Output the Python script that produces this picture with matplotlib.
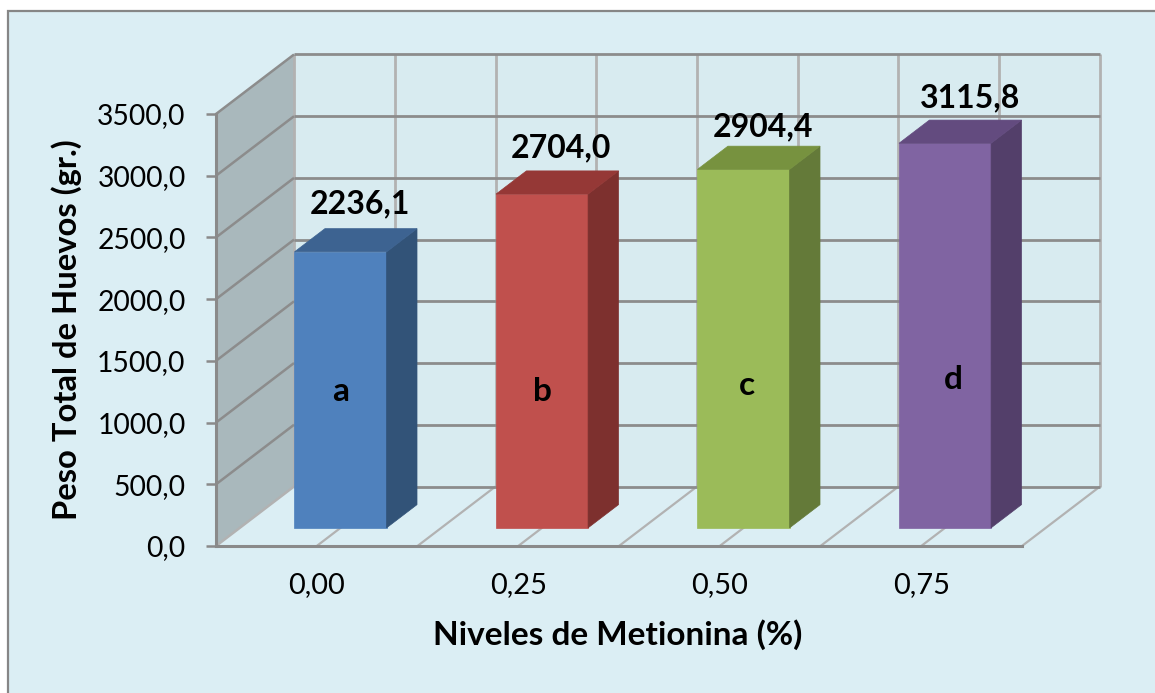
import matplotlib
matplotlib.use("Agg")
import matplotlib.pyplot as plt
from matplotlib.patches import Polygon, Rectangle

# Chart values
niveles = ["0,00", "0,25", "0,50", "0,75"]
peso_total = [2236.1, 2704.0, 2904.4, 3115.8]
grupos = ["a", "b", "c", "d"]
marcas_y = [0, 500, 1000, 1500, 2000, 2500, 3000, 3500]

# Face colours of each column: front, side, top
frente = ["#4F81BD", "#C0504D", "#9BBB59", "#8064A2"]
lateral = ["#325378", "#7D302E", "#647A39", "#533F6A"]
tapa = ["#3D6391", "#953836", "#77923F", "#634B7F"]

FONDO = "#DBEEF4"
PARED_TRASERA = "#D8EBF0"
PARED_LATERAL = "#A9B8BC"
REJILLA_H = "#8C8C8C"
REJILLA_V = "#B2B2B2"
EJE = "#8A8A8A"

W, H = 1155, 693
fig = plt.figure(figsize=(W / 100, H / 100), dpi=100, facecolor="white")
plt.rcParams["font.family"] = ["Lato", "DejaVu Sans"]

# Chart area panel: only its left and top borders fall inside the canvas
fig.add_artist(Rectangle((8 / W, -0.05), 1.1, 1.05 - 11 / H, transform=fig.transFigure,
                         facecolor=FONDO, edgecolor="#868686", linewidth=1.6, zorder=-5))

# The axes cover the front plane of the 3D box
x0, x1, y_top, y_bot = 216, 1022, 114, 546
ax = fig.add_axes([x0 / W, 1 - y_bot / H, (x1 - x0) / W, (y_bot - y_top) / H])
ax.patch.set_alpha(0)
ax.set_xlim(0, 4)
ax.set_ylim(0, 3500)

# Oblique depth vector of the box, in data units
px_x = (x1 - x0) / 4
px_y = (y_bot - y_top) / 3500
DX = 78 / px_x
DY = 59.5 / px_y


def proy(x, y, z=1.0):
    """Project a point at depth z (0 front, 1 back) onto the front plane."""
    return x + z * DX, y + z * DY


def linea(p, q, color, lw, zorder=1):
    ax.plot([p[0], q[0]], [p[1], q[1]], color=color, lw=lw, clip_on=False,
            zorder=zorder, solid_capstyle="butt")


# Walls
ax.add_patch(Polygon([proy(0, 0, 1), proy(4, 0, 1), proy(4, 3500, 1), proy(0, 3500, 1)],
                     closed=True, facecolor=PARED_TRASERA, edgecolor="none",
                     clip_on=False, zorder=0.5))
ax.add_patch(Polygon([proy(0, 0, 0), proy(0, 0, 1), proy(0, 3500, 1), proy(0, 3500, 0)],
                     closed=True, facecolor=PARED_LATERAL, edgecolor="none",
                     clip_on=False, zorder=0.5))

# Gridlines: vertical on the back wall and their continuation across the floor
for k in range(0, 9):
    xk = k / 2
    if k > 0:
        linea(proy(xk, 0, 1), proy(xk, 3500, 1), REJILLA_V, 2.0)
        linea(proy(xk, 0, 0), proy(xk, 0, 1), REJILLA_V, 1.6)
linea(proy(0, 0, 0), proy(0, 0, 1), REJILLA_V, 1.8)
linea(proy(0, 0, 1), proy(0, 3500, 1), REJILLA_V, 2.0)

# Gridlines: horizontal on the back wall and slanted on the side wall
for v in marcas_y:
    if v > 0:
        linea(proy(0, v, 0), proy(0, v, 1), REJILLA_H, 1.8, zorder=1.2)
    linea(proy(0, v, 1), proy(4, v, 1), REJILLA_H, 2.0, zorder=1.2)

# Columns
z0, z1 = 0.305, 0.695
ancho = 0.457
pos = [i + 0.5 for i in range(len(peso_total))]
xs_front = [p + z0 * DX for p in pos]
ax.bar(xs_front, peso_total, bottom=z0 * DY, width=ancho, color=frente,
       edgecolor=frente, linewidth=0.5, clip_on=False, zorder=3)
for p, v, cs, ct in zip(pos, peso_total, lateral, tapa):
    xl, xr = p - ancho / 2, p + ancho / 2
    ax.add_patch(Polygon([proy(xr, 0, z0), proy(xr, 0, z1), proy(xr, v, z1), proy(xr, v, z0)],
                         closed=True, facecolor=cs, edgecolor=cs, linewidth=0.5,
                         clip_on=False, zorder=3))
    ax.add_patch(Polygon([proy(xl, v, z0), proy(xr, v, z0), proy(xr, v, z1), proy(xl, v, z1)],
                         closed=True, facecolor=ct, edgecolor=ct, linewidth=0.5,
                         clip_on=False, zorder=3))

# Value labels above each column and group letters on the front faces
nudge_valor = [(19, 25), (19, 23), (19, 19), (25, 22)]
nudge_letra = [(0, 0), (0, 0), (3, 6), (8, 12)]
for p, v, g, nv, nl in zip(pos, peso_total, grupos, nudge_valor, nudge_letra):
    xt, yt = proy(p, v, z1)
    ax.annotate(f"{v:.1f}".replace(".", ","), (p + z0 * DX, yt),
                xytext=(nv[0] * 0.72, nv[1] * 0.72), textcoords="offset points",
                ha="center", va="center", fontsize=23, fontweight="bold",
                color="black", zorder=5, annotation_clip=False)
    ax.annotate(g, (p + z0 * DX, z0 * DY + 1105), xytext=(nl[0] * 0.72, nl[1] * 0.72),
                textcoords="offset points", ha="center", va="center", fontsize=24,
                fontweight="bold", color="black", zorder=5, annotation_clip=False)

# Axes, ticks and titles
for lado in ("top", "right"):
    ax.spines[lado].set_visible(False)
for lado in ("left", "bottom"):
    ax.spines[lado].set_color(EJE)
    ax.spines[lado].set_linewidth(2.2)
    ax.spines[lado].set_zorder(2)
ax.set_yticks(marcas_y)
ax.set_yticklabels([f"{v:.1f}".replace(".", ",") for v in marcas_y], fontsize=20.3, color="black")
ax.tick_params(axis="y", length=7.5, width=1.8, color=EJE, pad=14.4)
ax.set_xticks(pos)
ax.set_xticklabels(niveles, fontsize=20.9, color="black")
ax.tick_params(axis="x", length=0, pad=19)

fig.text(618 / W, 1 - 635 / H, "Niveles de Metionina (%)", ha="center", va="center",
         fontsize=24, fontweight="bold", color="black")
fig.text(67 / W, 1 - 330 / H, "Peso Total de Huevos (gr.)", ha="center", va="center",
         rotation=90, fontsize=23.6, fontweight="bold", color="black")

fig.savefig("out.png", dpi=100, facecolor="white")
